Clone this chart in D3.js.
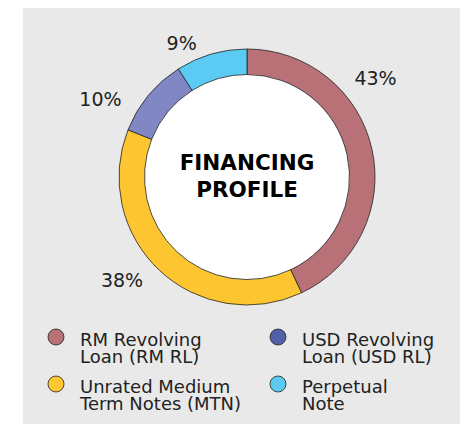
<!DOCTYPE html>
<html>
<head>
<meta charset="utf-8">
<script src="https://cdn.jsdelivr.net/npm/d3@7"></script>
<style>
  body { margin: 0; background: #fff; }
  svg { display: block; font-family: "DejaVu Sans", sans-serif; }
</style>
</head>
<body>
<div id="viz"></div>
<script>
// data
const categories = ["RM Revolving Loan (RM RL)", "Unrated Medium Term Notes (MTN)", "USD Revolving Loan (USD RL)", "Perpetual Note"];
const shares = [43, 38, 10, 9];
const sliceColors = ["#b87177", "#fdc631", "#8187c4", "#5ccbf4"];
const legendColors = ["#b87177", "#fdc631", "#5360a8", "#5ccbf4"];
const legendLines = [
  ["RM Revolving", "Loan (RM RL)"],
  ["Unrated Medium", "Term Notes (MTN)"],
  ["USD Revolving", "Loan (USD RL)"],
  ["Perpetual", "Note"]
];
const centerTitle = ["FINANCING", "PROFILE"];

const W = 460, H = 424;
const cx = 247, cy = 177, rOuter = 128, rInner = 102.5;

const svg = d3.select("#viz").append("svg")
    .attr("width", W)
    .attr("height", H);

svg.append("rect")
    .attr("x", 23).attr("y", 8)
    .attr("width", W - 23).attr("height", H - 8)
    .attr("fill", "#e9e9e9");

const pie = d3.pie().sort(null).value(d => d)(shares);
const arc = d3.arc().innerRadius(rInner).outerRadius(rOuter);

const g = svg.append("g").attr("transform", `translate(${cx},${cy})`);

g.append("circle")
    .attr("r", rInner)
    .attr("fill", "#fff");

g.selectAll("path.slice")
  .data(pie)
  .join("path")
    .attr("class", "slice")
    .attr("d", arc)
    .attr("fill", (d, i) => sliceColors[i])
    .attr("stroke", "#222")
    .attr("stroke-width", 0.8);

// labels sit a bit off the slice centroids, as in the reference
const labelAngle = [52.5, 230.5, 298, 334];
const labelRadius = [162, 162, 166, 149];
g.selectAll("text.pct")
  .data(pie)
  .join("text")
    .attr("class", "pct")
    .attr("x", (d, i) => labelRadius[i] * Math.sin(labelAngle[i] * Math.PI / 180))
    .attr("y", (d, i) => -labelRadius[i] * Math.cos(labelAngle[i] * Math.PI / 180))
    .attr("dy", "0.36em")
    .attr("text-anchor", "middle")
    .attr("font-size", 19)
    .attr("fill", "#222")
    .text(d => d.data + "%");

g.selectAll("text.title")
  .data(centerTitle)
  .join("text")
    .attr("class", "title")
    .attr("x", 0)
    .attr("y", (d, i) => -7 + i * 27)
    .attr("text-anchor", "middle")
    .attr("font-size", 21.5)
    .attr("font-weight", "bold")
    .attr("fill", "#000")
    .text(d => d);

// legend, two columns
const legend = svg.append("g")
  .selectAll("g")
  .data(categories)
  .join("g")
    .attr("transform", (d, i) => `translate(${i < 2 ? 56 : 278},${i % 2 === 0 ? 337 : 384})`);

legend.append("circle")
    .attr("r", 8)
    .attr("fill", (d, i) => legendColors[i])
    .attr("stroke", "#222")
    .attr("stroke-width", 0.8);

legend.append("text")
    .attr("x", 24)
    .attr("y", 8.5)
    .attr("font-size", 18)
    .attr("fill", "#222")
  .selectAll("tspan")
  .data((d, i) => legendLines[i])
  .join("tspan")
    .attr("x", 24)
    .attr("dy", (d, j) => j === 0 ? 0 : 17)
    .text(d => d);
</script>
</body>
</html>
